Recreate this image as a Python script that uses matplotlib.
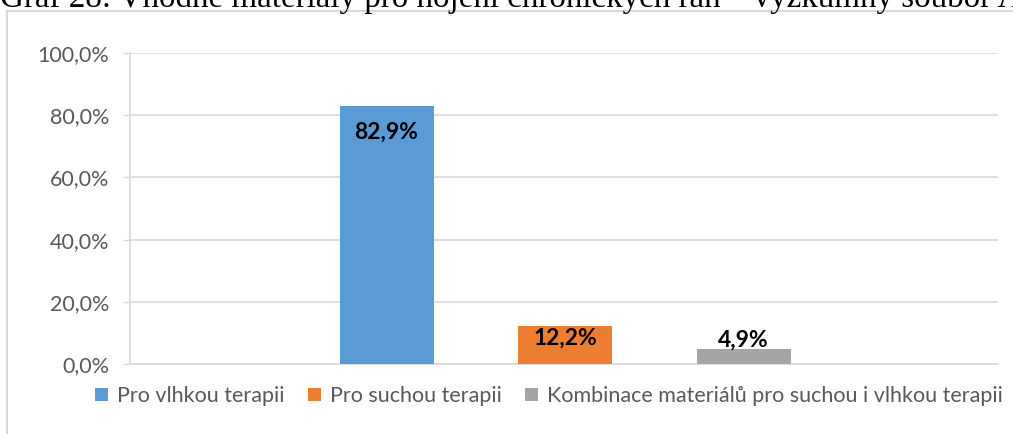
import numpy as np
import matplotlib.pyplot as plt
from matplotlib.patches import Rectangle, Patch

# data
series = ['Pro vlhkou terapii', 'Pro suchou terapii',
          'Kombinace materiálů pro suchou i vlhkou terapii']
values = [0.829, 0.122, 0.049]
labels = ['82,9%', '12,2%', '4,9%']
yticks = [0.0, 0.2, 0.4, 0.6, 0.8, 1.0]
ytick_labels = ['0,0%', '20,0%', '40,0%', '60,0%', '80,0%', '100,0%']
title = 'Graf 28: Vhodné materiály pro hojení chronických ran – výzkumný soubor A'

colors = ['#5B9BD5', '#ED7D31', '#A5A5A5']
label_offsets = [-26, -12, 9]   # px from bar top to label centre
grid_c = '#D9D9D9'
txt_c = '#595959'
font = 'Lato'

W, H = 1013, 434
fig = plt.figure(figsize=(W / 100, H / 100), dpi=100)

# chart frame (cut off on the right and bottom)
fig.patches.append(Rectangle((7 / W, -0.1), 1.2, (H - 11) / H + 0.1,
                             transform=fig.transFigure, fill=False,
                             edgecolor=grid_c, linewidth=1.5))

# title is clipped at the top edge of the image
fig.text(0 / W, 1 - 7 / H, title, family='Liberation Serif', fontsize=23.8,
         va='baseline', ha='left', color='black')

ax = fig.add_axes([130 / W, (H - 364) / H, 868 / W, 311 / H])
x = np.arange(len(values)) - 1
unit = 178.5  # px between bar centres
bars = ax.bar(x, values, width=94 / unit, color=colors, zorder=3)
ax.set_xlim(-435 / unit, 433 / unit)
ax.set_ylim(0, 1)

for b, lab, off in zip(bars, labels, label_offsets):
    ax.annotate(lab, (b.get_x() + b.get_width() / 2, b.get_height()),
                xytext=(0, off * 0.72), textcoords='offset points',
                ha='center', va='center', fontsize=16.5, fontweight='bold',
                family=font, color='black', zorder=4)

ax.set_yticks(yticks)
ax.set_yticklabels(ytick_labels, family=font, fontsize=15.5, color=txt_c)
ax.tick_params(axis='y', length=5, width=1, color=grid_c, pad=10)
ax.set_xticks([])
ax.yaxis.grid(True, color=grid_c, linewidth=1.2, zorder=0)
for s in ['top', 'right']:
    ax.spines[s].set_visible(False)
for s in ['left', 'bottom']:
    ax.spines[s].set_color(grid_c)
    ax.spines[s].set_linewidth(1.2)

handles = [Patch(facecolor=c, edgecolor='none') for c in colors]
fig.legend(handles, series, loc='center', bbox_to_anchor=(549 / W, 1 - 396 / H),
           ncol=3, frameon=False, handlelength=0.6, handleheight=0.6,
           handletextpad=0.4, columnspacing=1.1,
           prop={'family': font, 'size': 15.5}, labelcolor=txt_c)

fig.savefig('out.png', dpi=100)
